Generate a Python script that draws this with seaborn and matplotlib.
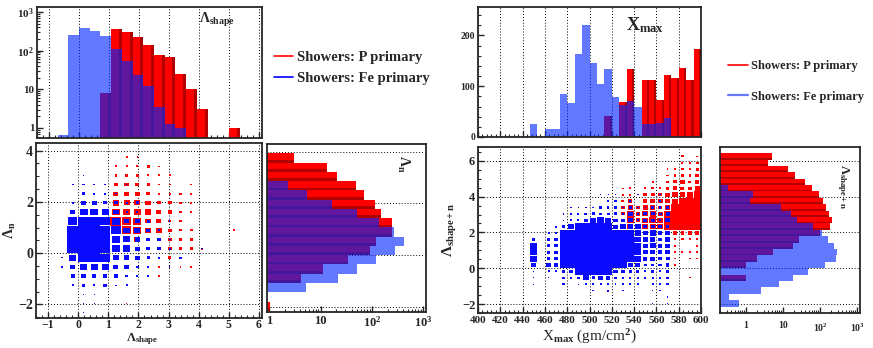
import numpy as np
import pandas as pd
import matplotlib
matplotlib.use("Agg")
import matplotlib.pyplot as plt
from matplotlib.lines import Line2D
from matplotlib.ticker import LogLocator, MultipleLocator, NullFormatter
import seaborn as sns

# bin widths used by the histograms
LAM_W = 5 / 14      # Lambda bins
XMAX_W = 20 / 3     # Xmax bins (gm/cm^2)
XMAX_0 = 400

# Lambda_shape histogram, bins -2..14
shape_bin0 = -2
fe_shape = [0.65, 251, 375, 331, 246, 113, 55, 24, 12, 3.5, 1.3, 1.0, 0, 0, 0, 0, 0]
p_shape = [0, 0, 0, 0, 8, 354, 307, 227, 143, 78, 67, 25, 10, 3.1, 0, 0, 1]

# Lambda_n histogram, bins -6..10
n_bin0 = -6
fe_n = [0, 0, 5.3, 22, 52, 118, 276, 418, 268, 138, 51, 16.6, 5.4, 2.3, 0, 0, 0]
p_n = [1.03, 0, 0, 4.1, 11, 34, 91, 119, 240, 245, 152, 112, 69, 49, 21, 13.3, 3.0]

# Lambda_shape+n histogram, bins -6..17
sn_bin0 = -6
fe_sn = [0.64, 0.34, 2.6, 7.8, 19, 48, 133, 268, 285, 246, 164, 113, 65, 24, 16, 9.0,
         1.28, 1.6, 0.32, 0, 0, 0, 0, 0]
p_sn = [0, 0, 0, 0, 1, 0, 1, 2.05, 5.4, 19, 27, 100, 190, 209, 174, 145, 120, 96, 59,
        40, 21.8, 13.9, 4.0, 5.2]

# Xmax histogram, 30 bins from 400 to 600
fe_xmax = [0, 0, 0, 0, 0, 0, 0, 26, 0, 15, 15, 84, 66, 163, 220, 145, 104, 133, 78, 64,
           70, 60, 26, 26, 28, 38, 0, 0, 0, 0]
p_xmax = [0] * 17 + [41, 0, 68, 133, 0, 112, 112, 72, 122, 116, 135, 112, 173]

# 2D box contents (percent of max), Lambda_shape vs Lambda_n
# row (Lambda_n bin) -> (first Lambda_shape bin, contents)
p_box_left = {
    10: (4, [20, 15]),
    9: (3, [20, 20, 20, 30, 15]),
    8: (3, [25, 30, 25, 20, 20, 20]),
    7: (3, [40, 40, 35, 30, 20, 20, 0, 15]),
    6: (3, [45, 45, 40, 35, 25, 20, 20, 20]),
    5: (3, [60, 55, 55, 50, 35, 35, 25, 15]),
    4: (3, [75, 65, 60, 55, 45, 35, 30, 20]),
    3: (3, [100, 85, 75, 50, 45, 25, 25]),
    2: (4, [85, 75, 50, 50, 35, 25, 25, 0, 0, 0, 20]),
    1: (5, [55, 40, 35, 35, 25, 25]),
    0: (6, [40, 40, 40, 30, 25, 20]),
    -1: (8, [30]),
    -2: (7, [20, 0, 15, 15]),
    -3: (7, [20]),
    -6: (4, [15]),
}
fe_box_left = {
    8: (0, [15]),
    7: (-1, [20, 20, 20, 20, 0, 15]),
    6: (0, [35, 20, 20, 15]),
    5: (-1, [15, 40, 45, 35, 35, 20, 30]),
    4: (-1, [50, 75, 75, 65, 50, 20, 20]),
    3: (-1, [85, 100, 100, 90, 75, 50, 50, 30, 0, 15]),
    2: (-1, [100, 100, 100, 100, 90, 60, 55, 35, 25]),
    1: (-1, [100, 100, 100, 100, 80, 65, 45, 35, 30, 20]),
    0: (-1, [100, 100, 100, 100, 75, 70, 45, 35, 30, 20, 0, 0, 15]),
    -1: (-2, [15, 65, 100, 100, 90, 55, 50, 40, 30, 25, 0, 20]),
    -2: (-2, [15, 45, 65, 60, 65, 45, 40, 25, 25, 0, 15]),
    -3: (-1, [35, 40, 35, 35, 40, 30, 20, 20]),
    -4: (-1, [20, 30, 20, 30, 15, 20]),
    -5: (0, [15, 15]),
    -6: (0, [15, 15]),
    -7: (0, [15]),
}

# 2D box contents, Xmax vs Lambda_shape+n
# column (Xmax bin) -> (first Lambda bin, contents)
fe_box_right = {
    7: (-3, [20, 20, 20, 70, 90, 90, 90, 35]),
    9: (-2, [20, 30, 60, 50, 50, 50, 35, 25]),
    10: (-1, [30, 60, 50, 50, 50, 50, 30, 30]),
    11: (-3, [30, 30, 50, 100, 100, 100, 100, 100, 100, 45, 20, 20]),
    12: (-2, [35, 55, 100, 100, 100, 100, 100, 100, 70, 30, 20, 20]),
    13: (-3, [20, 40, 100, 100, 100, 100, 100, 100, 100, 100, 30, 25, 20]),
    14: (-3, [30, 80, 100, 100, 100, 100, 100, 100, 100, 100, 50, 35, 25]),
    15: (-4, [25, 30, 45, 100, 100, 100, 100, 100, 100, 100, 100, 80, 45, 30]),
    16: (-3, [30, 65, 100, 100, 100, 100, 100, 100, 100, 100, 100, 40, 35, 0, 20]),
    17: (-4, [30, 30, 55, 100, 100, 100, 100, 100, 100, 100, 100, 70, 40, 35, 20, 15]),
    18: (-3, [25, 40, 60, 100, 100, 100, 100, 100, 100, 60, 55, 45, 35, 30, 20]),
    19: (-4, [20, 25, 35, 60, 100, 100, 100, 100, 100, 100, 70, 45, 30, 20]),
    20: (-3, [25, 30, 50, 70, 100, 100, 100, 100, 100, 70, 60, 60, 45, 25]),
    21: (-3, [25, 35, 45, 70, 90, 90, 90, 90, 85, 75, 35, 30, 20, 0, 20]),
    22: (-2, [30, 30, 45, 60, 65, 65, 70, 70, 50, 55, 50, 20]),
    23: (-6, [20, 0, 20, 30, 30, 35, 40, 60, 65, 80, 75, 80, 50, 55, 50, 35]),
    24: (-4, [20, 30, 30, 30, 45, 50, 55, 60, 60, 60, 50, 35, 40, 35, 30, 25]),
    25: (-6, [20, 20, 0, 30, 35, 45, 50, 55, 65, 70, 70, 65, 50, 60, 55, 45]),
}
p_box_right = {
    19: (6, [60, 55, 50, 45, 40, 30, 20]),
    20: (6, [80, 90, 90, 70, 55, 30, 25]),
    21: (7, [60, 60, 50]),
    22: (6, [80, 85, 80, 65, 55, 50, 30]),
    23: (6, [80, 90, 85, 70, 70, 50, 35, 25]),
    24: (6, [80, 75, 65, 60, 65, 45, 30]),
    25: (6, [100, 100, 85, 75, 65, 60, 45, 35, 30, 25]),
    26: (0, [20, 20, 25, 30, 30, 50, 100, 100, 100, 100, 80, 85, 65, 50, 35, 30]),
    27: (2, [25, 0, 30, 50, 100, 100, 100, 100, 90, 75, 55, 60, 40, 30, 25, 30]),
    28: (-2, [20, 0, 0, 20, 25, 0, 30, 50, 100, 100, 100, 100, 100, 90, 55, 40, 35, 30, 25]),
    29: (1, [25, 30, 25, 30, 55, 100, 100, 100, 100, 100, 100, 70, 55, 50, 45, 35, 25]),
}

RED = "#ff0000"
DARK_RED = "#b00000"
BLUE_HIST = (0.0, 0.15, 1.0)
BLUE_BOX = "#0a0aff"

sns.set_style("ticks")
plt.rcParams["font.family"] = ["Liberation Serif", "DejaVu Serif"]
plt.rcParams["font.weight"] = "bold"
plt.rcParams["mathtext.fontset"] = "custom"
plt.rcParams["mathtext.rm"] = "Liberation Serif:bold"
plt.rcParams["mathtext.it"] = "Liberation Serif:bold"
plt.rcParams["mathtext.bf"] = "Liberation Serif:bold"
plt.rcParams["axes.linewidth"] = 1.3

fig = plt.figure(figsize=(8.73, 3.48), dpi=100)
W_, H_ = 873, 348


def add_axes(x0, y0, x1, y1):
    return fig.add_axes([x0 / W_, 1 - y1 / H_, (x1 - x0) / W_, (y1 - y0) / H_])


def style(ax, size):
    ax.tick_params(which="both", direction="in", top=False, right=False, labelsize=size, pad=2)
    ax.tick_params(which="major", length=4, width=1)
    ax.tick_params(which="minor", length=2, width=0.8)
    for s in ax.spines.values():
        s.set_visible(True)
        s.set_linewidth(1.3)
    ax.set_axisbelow(True)
    ax.set_xlabel("")
    ax.set_ylabel("")


GRID = dict(color="black", linestyle=(0, (1, 2)), linewidth=0.7)


def edges(first, n, w, x0=0.0):
    return x0 + (first + np.arange(n + 1)) * w


def hist_frame(e, vals):
    return pd.DataFrame({"c": 0.5 * (e[:-1] + e[1:]), "w": np.asarray(vals, dtype=float)})


def vhist(ax, e, p_vals, fe_vals):
    w = e[1] - e[0]
    sns.histplot(data=hist_frame(e, p_vals), x="c", weights="w", bins=list(e), color=RED,
                 alpha=1, edgecolor="none", linewidth=0, ax=ax)
    ax.bar(e[:-1] + 0.72 * w, p_vals, width=0.28 * w, align="edge", color=DARK_RED, linewidth=0)
    sns.histplot(data=hist_frame(e, fe_vals), x="c", weights="w", bins=list(e),
                 color=BLUE_HIST, alpha=0.62, edgecolor="none", linewidth=0, ax=ax)


def hhist(ax, e, p_vals, fe_vals):
    w = e[1] - e[0]
    sns.histplot(data=hist_frame(e, p_vals), y="c", weights="w", bins=list(e), color=RED,
                 alpha=1, edgecolor="none", linewidth=0, ax=ax)
    ax.barh(e[:-1], p_vals, height=0.3 * w, align="edge", color=DARK_RED, linewidth=0)
    sns.histplot(data=hist_frame(e, fe_vals), y="c", weights="w", bins=list(e),
                 color=BLUE_HIST, alpha=0.62, edgecolor="none", linewidth=0, ax=ax)


def draw_boxes(ax, cells, by_row, wx, wy, x0, color):
    xs, ys, vs = [], [], []
    for key, (start, vals) in cells.items():
        for k, v in enumerate(vals):
            if v <= 0:
                continue
            if by_row:
                xi, yi = start + k, key
            else:
                xi, yi = key, start + k
            xs.append(x0 + (xi + 0.5) * wx)
            ys.append((yi + 0.5) * wy)
            vs.append(v / 100)
    xs, ys, f = np.array(xs), np.array(ys), np.array(vs)
    ax.bar(xs, f * wy, width=f * wx, bottom=ys - f * wy / 2, color=color, linewidth=0)


def log_ticks(axis):
    axis.set_minor_locator(LogLocator(base=10, subs=np.arange(2, 10), numticks=20))
    axis.set_minor_formatter(NullFormatter())


log_labels = ["1", "10", r"10$^{2}$", r"10$^{3}$"]

# ---------------- left panel ----------------
ax1 = add_axes(37, 7, 262, 138)
e_shape = edges(shape_bin0, len(fe_shape), LAM_W)
vhist(ax1, e_shape, p_shape, fe_shape)
ax1.set_yscale("log")
ax1.set_xlim(-1.4, 6.1)
ax1.set_ylim(0.55, 1350)
style(ax1, 8)
ax1.set_yticks([1, 10, 100, 1000], log_labels)
log_ticks(ax1.yaxis)
ax1.xaxis.set_major_locator(MultipleLocator(1))
ax1.xaxis.set_minor_locator(MultipleLocator(0.2))
ax1.tick_params(axis="x", labelbottom=False)
ax1.grid(axis="x", **GRID)
ax1.text(0.8, 0.9, r"$\Lambda_{\rm shape}$", transform=ax1.transAxes, ha="center",
         va="center", fontsize=10)

ax2 = add_axes(36, 143, 262, 318)
draw_boxes(ax2, p_box_left, True, LAM_W, LAM_W, 0, RED)
draw_boxes(ax2, fe_box_left, True, LAM_W, LAM_W, 0, BLUE_BOX)
ax2.set_xlim(-1.4, 6.1)
ax2.set_ylim(-2.53, 4.3)
style(ax2, 10)
ax2.tick_params(axis="x", pad=1, labelsize=8.5)
ax2.xaxis.set_major_locator(MultipleLocator(1))
ax2.xaxis.set_minor_locator(MultipleLocator(0.2))
ax2.yaxis.set_major_locator(MultipleLocator(2))
ax2.yaxis.set_minor_locator(MultipleLocator(0.5))
ax2.grid(axis="both", **GRID)
ax2.set_xlabel(r"$\Lambda_{\rm shape}$", fontsize=9)
ax2.xaxis.set_label_coords(0.47, -0.078)
ax2.set_ylabel(r"$\Lambda_{\rm n}$", fontsize=10, labelpad=0)

ax3 = add_axes(267, 144, 426, 312)
e_n = edges(n_bin0, len(fe_n), LAM_W)
hhist(ax3, e_n, p_n, fe_n)
ax3.set_xscale("log")
ax3.set_xlim(0.91, 1120)
ax3.set_ylim(-2.19, 4.29)
style(ax3, 9)
ax3.set_xticks([1, 10, 100, 1000], log_labels)
log_ticks(ax3.xaxis)
ax3.yaxis.set_major_locator(MultipleLocator(2))
ax3.tick_params(axis="y", labelleft=False, length=0, which="both")
ax3.grid(axis="y", **GRID)
ax3.text(0.855, 0.885, r"$\Lambda_{\rm n}$", transform=ax3.transAxes, ha="center",
         va="center", fontsize=10, rotation=-90)

handles = [Line2D([], [], color=RED, lw=1.2), Line2D([], [], color="blue", lw=1.2)]
labels = ["Showers: P primary", "Showers: Fe primary"]
fig.legend(handles, labels, loc="upper left", bbox_to_anchor=(274 / W_, 1 - 51 / H_),
           frameon=False, fontsize=10.5, handlelength=1.3, handletextpad=0.3,
           labelspacing=0.55, borderpad=0, borderaxespad=0)

# ---------------- right panel ----------------
ax4 = add_axes(478, 7, 701, 137)
e_x = edges(0, len(fe_xmax), XMAX_W, XMAX_0)
vhist(ax4, e_x, p_xmax, fe_xmax)
ax4.set_xlim(400, 600)
ax4.set_ylim(0, 256)
style(ax4, 7)
ax4.xaxis.set_major_locator(MultipleLocator(20))
ax4.xaxis.set_minor_locator(MultipleLocator(4))
ax4.yaxis.set_major_locator(MultipleLocator(100))
ax4.yaxis.set_minor_locator(MultipleLocator(20))
ax4.tick_params(axis="x", labelbottom=False)
ax4.grid(axis="x", **GRID)
ax4.text(0.75, 0.86, r"X$_{\rm max}$", transform=ax4.transAxes, ha="center",
         va="center", fontsize=13)

ax5 = add_axes(478, 147, 701, 313)
draw_boxes(ax5, p_box_right, False, XMAX_W, LAM_W, XMAX_0, RED)
draw_boxes(ax5, fe_box_right, False, XMAX_W, LAM_W, XMAX_0, BLUE_BOX)
ax5.set_xlim(400, 600)
ax5.set_ylim(-2.5, 6.77)
style(ax5, 8)
ax5.xaxis.set_major_locator(MultipleLocator(20))
ax5.xaxis.set_minor_locator(MultipleLocator(4))
ax5.yaxis.set_major_locator(MultipleLocator(2))
ax5.yaxis.set_minor_locator(MultipleLocator(0.5))
ax5.tick_params(axis="y", labelsize=9)
ax5.grid(axis="both", **GRID)
ax5.set_xlabel(r"X$_{\rm max}$ (gm/cm$^{2}$)", fontsize=11, labelpad=2)
ax5.set_ylabel(r"$\Lambda_{\rm shape+n}$", fontsize=11, labelpad=2)

ax6 = add_axes(720, 147, 860, 313)
e_sn = edges(sn_bin0, len(fe_sn), LAM_W)
hhist(ax6, e_sn, p_sn, fe_sn)
ax6.set_xscale("log")
ax6.set_xlim(0.2, 1200)
ax6.set_ylim(-2.5, 6.77)
style(ax6, 7)
ax6.set_xticks([1, 10, 100, 1000], log_labels)
log_ticks(ax6.xaxis)
ax6.yaxis.set_major_locator(MultipleLocator(2))
ax6.tick_params(axis="y", labelleft=False, length=0, which="both")
ax6.tick_params(axis="x", pad=6)
ax6.grid(axis="y", **GRID)
ax6.text(0.88, 0.76, r"$\Lambda_{\rm shape+n}$", transform=ax6.transAxes, ha="center",
         va="center", fontsize=9, rotation=-90)

handles = [Line2D([], [], color=RED, lw=1.2), Line2D([], [], color="#6a7aff", lw=1.6)]
fig.legend(handles, labels, loc="upper left", bbox_to_anchor=(728 / W_, 1 - 60 / H_),
           frameon=False, fontsize=9, handlelength=1.6, handletextpad=0.25,
           labelspacing=1.5, borderpad=0, borderaxespad=0)

fig.savefig("out.png", dpi=100)
